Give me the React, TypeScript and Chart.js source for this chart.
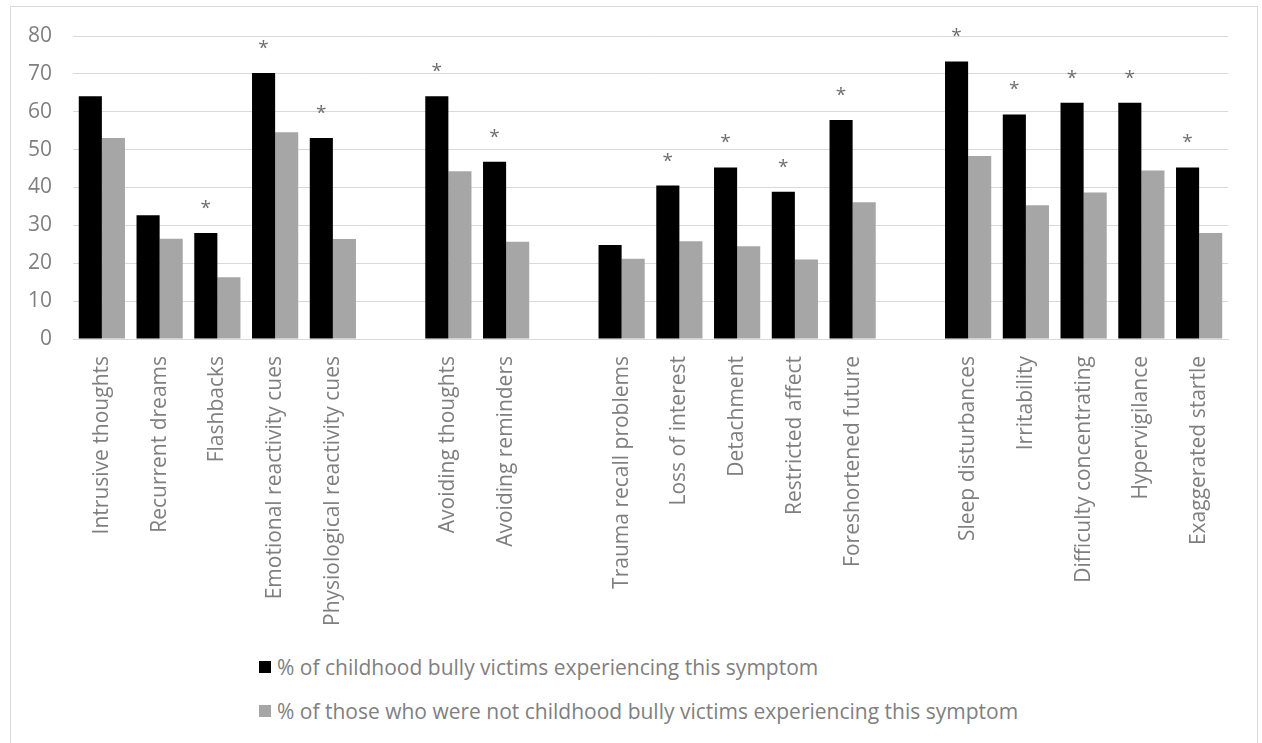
import React, { useEffect, useRef } from "react";
import { Chart, registerables } from "chart.js";

Chart.register(...registerables);

const categories = [
  "Intrusive thoughts",
  "Recurrent dreams",
  "Flashbacks",
  "Emotional reactivity cues",
  "Physiological reactivity cues",
  "",
  "Avoiding thoughts",
  "Avoiding reminders",
  "",
  "Trauma recall problems",
  "Loss of interest",
  "Detachment",
  "Restricted affect",
  "Foreshortened future",
  "",
  "Sleep disturbances",
  "Irritability",
  "Difficulty concentrating",
  "Hypervigilance",
  "Exaggerated startle",
];

const victims = [64.1, 32.7, 28.0, 70.2, 53.1, null, 64.1, 46.8, null, 24.8, 40.5, 45.3, 38.9, 57.8, null, 73.3, 59.3, 62.4, 62.4, 45.3];
const nonVictims = [53.1, 26.5, 16.3, 54.6, 26.4, null, 44.3, 25.7, null, 21.2, 25.8, 24.5, 21.0, 36.1, null, 48.3, 35.3, 38.7, 44.5, 28.0];
const significant = [false, false, true, true, true, false, true, true, false, false, true, true, true, true, false, true, true, true, true, true];

const seriesNames = [
  "% of childhood bully victims experiencing this symptom",
  "% of those who were not childhood bully victims experiencing this symptom",
];
const seriesColors = ["#000000", "#a6a6a6"];

const yTicks = [0, 10, 20, 30, 40, 50, 60, 70, 80];

const FONT = '"Open Sans", "Noto Sans", sans-serif';
const TEXT = "#7f7f7f";

const asteriskPlugin = {
  id: "asterisks",
  afterDatasetsDraw(chart: any) {
    const meta = chart.getDatasetMeta(0);
    const ctx = chart.ctx;
    ctx.save();
    ctx.fillStyle = "#6f6f6f";
    ctx.font = `19px ${FONT}`;
    ctx.textAlign = "center";
    ctx.textBaseline = "alphabetic";
    meta.data.forEach((el: any, i: number) => {
      if (!significant[i] || victims[i] == null) return;
      ctx.fillText("*", el.x, el.y - 19);
    });
    ctx.restore();
  },
};

export default function App() {
  const ref = useRef<HTMLCanvasElement | null>(null);

  useEffect(() => {
    if (!ref.current) return;
    const chart = new Chart(ref.current, {
      type: "bar",
      data: {
        labels: categories,
        datasets: [
          { label: seriesNames[0], data: victims, backgroundColor: seriesColors[0], categoryPercentage: 0.8, barPercentage: 1.0 },
          { label: seriesNames[1], data: nonVictims, backgroundColor: seriesColors[1], categoryPercentage: 0.8, barPercentage: 1.0 },
        ],
      },
      options: {
        responsive: false,
        animation: false,
        layout: { padding: { top: 36, right: 34, left: 0, bottom: 0 } },
        plugins: {
          legend: { display: false },
          tooltip: { enabled: false },
        },
        scales: {
          x: {
            grid: { display: false },
            border: { color: "#d9d9d9" },
            ticks: {
              autoSkip: false,
              minRotation: 90,
              maxRotation: 90,
              color: TEXT,
              font: { family: FONT, size: 21 },
              padding: 9,
            },
            afterFit: (scale: any) => {
              scale.height = 301;
            },
          },
          y: {
            min: 0,
            max: 80,
            afterBuildTicks: (scale: any) => {
              scale.ticks = yTicks.map((v) => ({ value: v }));
            },
            grid: { color: "#d9d9d9", drawTicks: false },
            border: { display: false },
            ticks: {
              color: TEXT,
              font: { family: FONT, size: 21 },
              padding: 21,
            },
            afterFit: (scale: any) => {
              scale.width = 73;
            },
          },
        },
      },
      plugins: [asteriskPlugin],
    });
    return () => chart.destroy();
  }, []);

  const legendRow = (i: number, top: number) => (
    <div
      key={i}
      style={{
        position: "absolute",
        left: 259,
        top,
        height: 28,
        display: "flex",
        alignItems: "center",
        fontFamily: FONT,
        fontSize: 21,
        color: TEXT,
        whiteSpace: "nowrap",
      }}
    >
      <span style={{ display: "inline-block", width: 12, height: 12, background: seriesColors[i], marginRight: 6 }} />
      <span>{seriesNames[i]}</span>
    </div>
  );

  return (
    <div style={{ position: "fixed", left: 0, top: 0, width: 1262, height: 743, background: "#fff", overflow: "hidden" }}>
      <div
        style={{
          position: "absolute",
          left: 10,
          top: 6,
          width: 1246,
          height: 800,
          border: "1px solid #d9d9d9",
          borderBottom: "none",
        }}
      />
      <canvas ref={ref} width={1262} height={640} style={{ position: "absolute", left: 0, top: 0 }} />
      {legendRow(0, 653)}
      {legendRow(1, 697)}
    </div>
  );
}
